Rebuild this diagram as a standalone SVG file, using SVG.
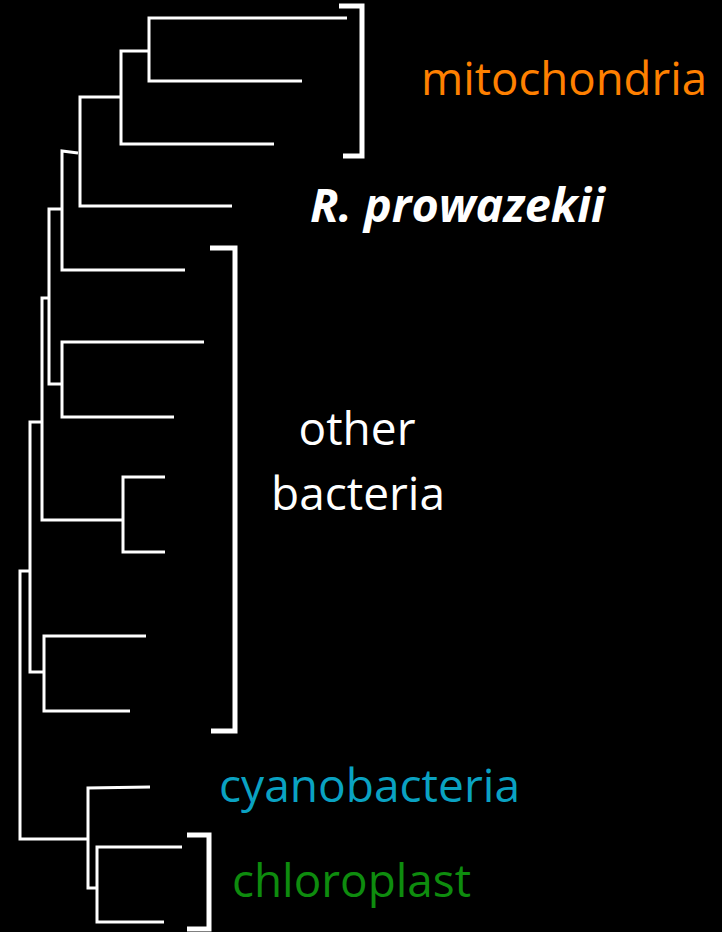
<svg xmlns="http://www.w3.org/2000/svg" width="722" height="932" viewBox="0 0 722 932">
<style>
.br{fill:none;stroke:#fff;stroke-width:3;stroke-linejoin:miter;stroke-linecap:butt}
.bk{fill:none;stroke:#fff;stroke-width:5;stroke-linejoin:miter;stroke-linecap:butt}
.lb{font-family:"Open Sans","Liberation Sans",sans-serif;font-size:46px}
</style>
<rect width="722" height="932" fill="#000"/>
<g id="connectors">
<path class="br" d="M347,18 H149 V81 H302"/>
<path class="br" d="M149,51 H121 V144 H274"/>
<path class="br" d="M121,97 H80 V206 H232"/>
<path class="br" d="M78,153 L62,151 V270 H185"/>
<path class="br" d="M62,209 H49 V384 H62"/>
<path class="br" d="M204,342 H62 V417 H174"/>
<path class="br" d="M49,298 H42 V520 H123"/>
<path class="br" d="M165,477 H123 V552 H165"/>
<path class="br" d="M42,422 H30 V672 H44"/>
<path class="br" d="M146,636 H44 V711 H130"/>
<path class="br" d="M30,571 H20 V839 H88"/>
<path class="br" d="M150,787 L88,788 V888 H97"/>
<path class="br" d="M182,847 H97 V922 H164"/>
</g>
<g id="mitochondria">
<path class="bk" d="M339,6 H362 V156 H343"/>
<text class="lb" x="421" y="95" fill="#FF8000" textLength="286" lengthAdjust="spacingAndGlyphs">mitochondria</text>
</g>
<g id="r-prowazekii">
<text class="lb" x="310" y="222" fill="#fff" font-weight="bold" font-style="italic" textLength="295" lengthAdjust="spacingAndGlyphs">R. prowazekii</text>
</g>
<g id="other-bacteria">
<path class="bk" d="M210,248 H235 V731 H211"/>
<text class="lb" x="357" y="445" fill="#fff" text-anchor="middle">other</text>
<text class="lb" x="358" y="510" fill="#fff" text-anchor="middle">bacteria</text>
</g>
<g id="cyanobacteria">
<text class="lb" x="219" y="802" fill="#0AA2C2" textLength="301" lengthAdjust="spacingAndGlyphs">cyanobacteria</text>
</g>
<g id="chloroplast">
<path class="bk" d="M187,835 H209 V929 H187"/>
<text class="lb" x="232" y="897" fill="#0E8C0E" textLength="239" lengthAdjust="spacingAndGlyphs">chloroplast</text>
</g>
</svg>
